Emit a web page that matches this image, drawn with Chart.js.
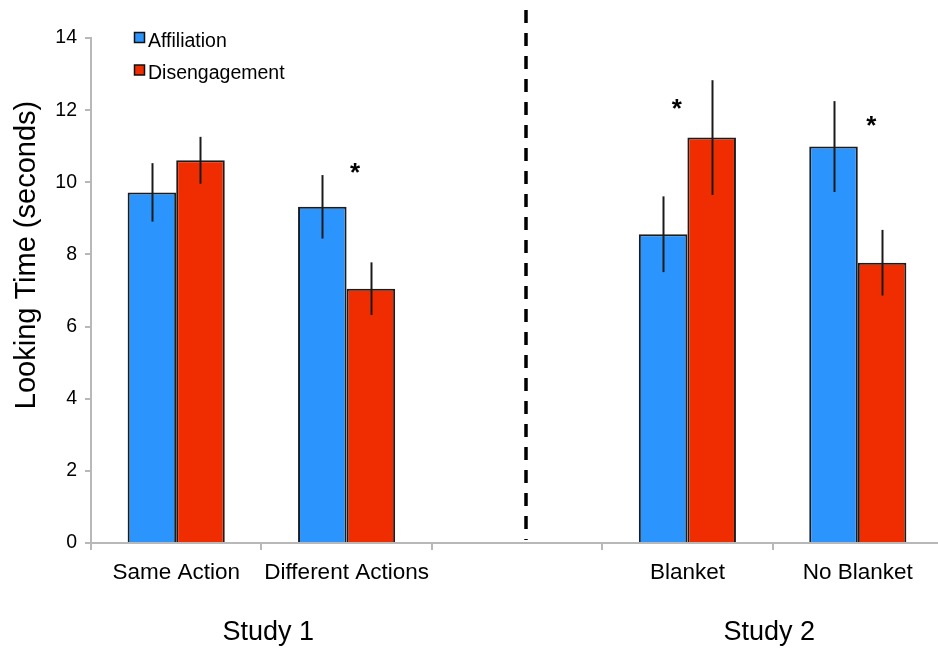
<!DOCTYPE html>
<html>
<head>
<meta charset="utf-8">
<script src="https://cdn.jsdelivr.net/npm/chart.js@4.4.1/dist/chart.umd.min.js"></script>
<style>
  html, body { margin: 0; padding: 0; overflow: hidden; background: #fff; }
  #wrap { width: 943px; height: 649px; }
</style>
</head>
<body>
<div id="wrap"><canvas id="c" width="943" height="649"></canvas></div>
<script>
// Mean looking times (seconds) per condition, with standard errors
const categories = ['Same Action', 'Different Actions', '', 'Blanket', 'No Blanket'];
const affiliation = [9.72, 9.32, null, 8.56, 10.99];
const disengagement = [10.61, 7.05, null, 11.24, 7.77];
const affiliationErr = [0.81, 0.88, null, 1.05, 1.26];
const disengagementErr = [0.65, 0.73, null, 1.59, 0.91];
// Height (in seconds) of the significance marker for each condition
const significance = [null, 10.45, null, 12.23, 11.75];
const yTicks = [0, 2, 4, 6, 8, 10, 12, 14];
const studyLabels = ['Study 1', 'Study 2'];
const seriesNames = ['Affiliation', 'Disengagement'];

const FONT = "'Liberation Sans', Arial, Helvetica, sans-serif";
const BLUE = '#2b94fd';
const RED = '#f02d00';
const AXIS = '#b8b8b8';
const INK = '#000';

const extras = {
  id: 'extras',
  afterDatasetsDraw(chart) {
    const ctx = chart.ctx;
    const x = chart.scales.x, y = chart.scales.y;
    const errs = [affiliationErr, disengagementErr];
    ctx.save();
    // error bars
    ctx.strokeStyle = '#1a1a1a';
    ctx.lineWidth = 2;
    errs.forEach((err, d) => {
      const meta = chart.getDatasetMeta(d);
      const vals = chart.data.datasets[d].data;
      meta.data.forEach((bar, i) => {
        if (vals[i] == null || err[i] == null) return;
        const px = Math.round(bar.x) + 0.5;
        ctx.beginPath();
        ctx.moveTo(px, y.getPixelForValue(vals[i] + err[i]));
        ctx.lineTo(px, y.getPixelForValue(vals[i] - err[i]));
        ctx.stroke();
      });
    });
    // significance markers
    const shift = [0, 8.5, 0, -10.5, 13.5];
    ctx.fillStyle = INK;
    ctx.font = 'bold 26px ' + FONT;
    ctx.textAlign = 'center';
    ctx.textBaseline = 'alphabetic';
    significance.forEach((v, i) => {
      if (v == null) return;
      ctx.fillText('*', x.getPixelForValue(i) + shift[i], y.getPixelForValue(v) + 15);
    });
    // dashed divider between the two studies
    const dx = Math.round(x.getPixelForValue(2.05));
    ctx.strokeStyle = '#000';
    ctx.lineWidth = 3.5;
    ctx.setLineDash([13, 10]);
    ctx.beginPath();
    ctx.moveTo(dx, 10);
    ctx.lineTo(dx, chart.chartArea.bottom - 3);
    ctx.stroke();
    ctx.setLineDash([]);
    // study labels
    ctx.font = '27px ' + FONT;
    ctx.textBaseline = 'middle';
    ctx.fillText(studyLabels[0], x.getPixelForValue(0.54), 633);
    ctx.fillText(studyLabels[1], x.getPixelForValue(3.48), 633);
    // y-axis title
    ctx.save();
    ctx.translate(27, 255);
    ctx.rotate(-Math.PI / 2);
    ctx.font = '29px ' + FONT;
    ctx.fillText('Looking Time (seconds)', 0, 0);
    ctx.restore();
    // legend
    const colors = [BLUE, RED];
    ctx.font = '19.5px ' + FONT;
    ctx.textAlign = 'left';
    seriesNames.forEach((name, k) => {
      const ty = 41.5 + k * 32.5;
      ctx.fillStyle = colors[k];
      ctx.fillRect(134.5, ty - 9, 10, 10);
      ctx.strokeStyle = '#111';
      ctx.lineWidth = 1.5;
      ctx.strokeRect(134.5, ty - 9, 10, 10);
      ctx.fillStyle = INK;
      ctx.fillText(name, 148, ty);
    });
    ctx.restore();
  }
};

new Chart(document.getElementById('c'), {
  type: 'bar',
  data: {
    labels: categories,
    datasets: [
      { label: seriesNames[0], data: affiliation, backgroundColor: BLUE, borderColor: '#1c1c1c', borderWidth: 2 },
      { label: seriesNames[1], data: disengagement, backgroundColor: RED, borderColor: '#1c1c1c', borderWidth: 2 }
    ]
  },
  options: {
    responsive: false,
    devicePixelRatio: 1,
    animation: false,
    layout: { padding: { top: 38, left: 0, right: 0, bottom: 0 } },
    datasets: { bar: { categoryPercentage: 0.57, barPercentage: 1.0 } },
    plugins: { legend: { display: false }, tooltip: { enabled: false } },
    scales: {
      x: {
        grid: { display: true, offset: true, drawOnChartArea: false, tickLength: 7, color: AXIS, lineWidth: 2 },
        border: { display: true, color: AXIS, width: 2 },
        ticks: { color: INK, font: { family: FONT, size: 22.5 }, padding: 9, maxRotation: 0, autoSkip: false },
        afterFit(s) { s.height = 106; }
      },
      y: {
        min: 0, max: 14,
        afterBuildTicks(s) { s.ticks = yTicks.map(v => ({ value: v })); },
        grid: { display: true, drawOnChartArea: false, tickLength: 6, color: AXIS, lineWidth: 2 },
        border: { display: true, color: AXIS, width: 2 },
        ticks: { color: INK, font: { family: FONT, size: 19.5 }, padding: 8 },
        afterFit(s) { s.width = 91; }
      }
    }
  },
  plugins: [extras]
});
</script>
</body>
</html>
